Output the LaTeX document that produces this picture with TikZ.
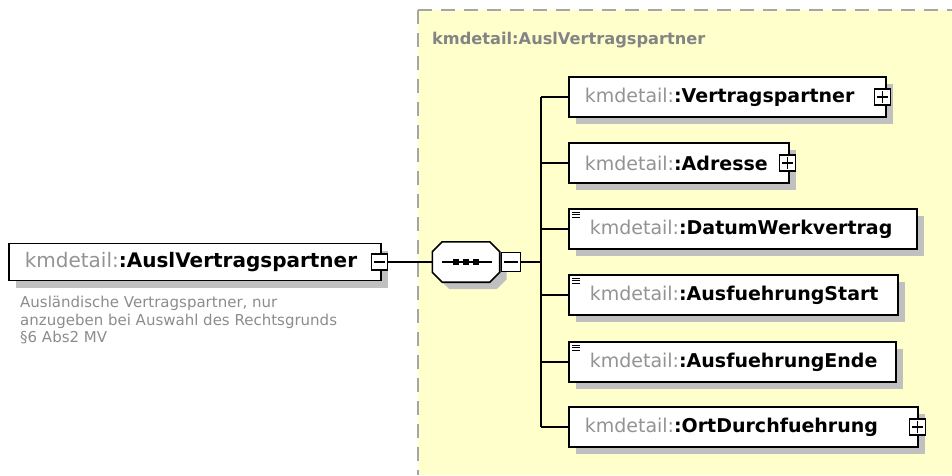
\documentclass[tikz,border=0pt]{standalone}
\usepackage{fontspec}
\setmainfont{DejaVu Sans}
\usetikzlibrary{positioning, shadows}

\definecolor{cyellow}{HTML}{FFFFCC}
\definecolor{cborder}{HTML}{A6A6A6}
\definecolor{ctitle}{HTML}{848484}
\definecolor{nsgray}{HTML}{939393}
\definecolor{docgray}{HTML}{8C8C8C}
\definecolor{shgray}{HTML}{C0C0C0}

\newcommand{\kmd}[1]{\mbox{\hspace*{16pt}{\color{nsgray}kmdetail:}\textbf{:#1}}}
\newcommand{\minussign}[1]{\draw[line width=1.1pt] ([xshift=3pt]#1.west) -- ([xshift=-3pt]#1.east);}
\newcommand{\plussign}[1]{\minussign{#1}\draw[line width=1.1pt] ([yshift=3pt]#1.south) -- ([yshift=-3pt]#1.north);}
\newcommand{\simpleicon}[1]{\foreach \k in {0,1,2}{\draw[line width=0.9pt] ([xshift=4pt,yshift={-(4+2.6*\k)*1pt}]#1.north west) -- ++(8,0);}}

\tikzset{
  shad/.style={drop shadow={shadow xshift=7pt, shadow yshift=-7pt, fill=shgray, opacity=1}},
  elem/.style={draw, line width=1.6pt, fill=white, shad, anchor=west, inner xsep=0pt,
    align=left, minimum height=40pt, font=\fontsize{19}{22}\selectfont},
  pm/.style={draw, line width=1.1pt, fill=white, minimum size=16pt, inner sep=0pt},
  conn/.style={line width=1.6pt},
}

\begin{document}
\begin{tikzpicture}[x=1pt, y=-1pt]
  \useasboundingbox (0,0) rectangle (952,475);

  % complex type area
  \fill[cyellow] (418,10) rectangle (952,475);
  \draw[cborder, line width=1.5pt, dash pattern=on 14pt off 9pt] (418,10) -- (952,10);
  \draw[cborder, line width=1.5pt, dash pattern=on 14pt off 9pt] (418,10) -- (418,475);
  \node[anchor=west, text=ctitle, inner sep=0pt, font=\fontsize{16.2}{19}\selectfont\bfseries] (ctype) at (432,40) {kmdetail:AuslVertragspartner};

  % root element
  \node[elem, text width=372pt, minimum height=37pt, font=\fontsize{20}{23}\selectfont] (main) at (8,262) {\kmd{AuslVertragspartner}};
  \node[pm] (mainpm) at ([xshift=-2pt]main.east) {};
  \minussign{mainpm}
  \node[anchor=north west, align=left, text=docgray, inner sep=0pt, font=\fontsize{15}{17.5}\selectfont] (doc) at (20,296)
    {Ausländische Vertragspartner, nur\\anzugeben bei Auswahl des Rechtsgrunds\\§6 Abs2 MV};

  % sequence
  \node[minimum width=67pt, minimum height=40pt, inner sep=0pt] (seq) at (466,262) {};
  \fill[shgray] ([shift={(17pt,-7pt)}]seq.north west) -- ([shift={(-3pt,-7pt)}]seq.north east)
    -- ([shift={(7pt,-17pt)}]seq.north east) -- ([shift={(7pt,3pt)}]seq.south east)
    -- ([shift={(-3pt,-7pt)}]seq.south east) -- ([shift={(17pt,-7pt)}]seq.south west)
    -- ([shift={(7pt,3pt)}]seq.south west) -- ([shift={(7pt,-17pt)}]seq.north west) -- cycle;
  \draw[conn, fill=white] ([xshift=10pt]seq.north west) -- ([xshift=-10pt]seq.north east)
    -- ([yshift=-10pt]seq.north east) -- ([yshift=10pt]seq.south east)
    -- ([xshift=-10pt]seq.south east) -- ([xshift=10pt]seq.south west)
    -- ([yshift=10pt]seq.south west) -- ([yshift=-10pt]seq.north west) -- cycle;
  \draw[conn] ([xshift=10pt]seq.west) -- ([xshift=-8pt]seq.east);
  \foreach \d in {-10,0,10}
    \fill ([xshift=\d pt]seq.center) ++(-2.8,-2.8) rectangle ++(5.6,5.6);
  \node[pm, minimum size=19pt, right=1pt of seq] (seqpm) {};
  \minussign{seqpm}
  \coordinate (bar) at (541,262);

  % children
  \node[elem, text width=317pt] (vp) at (568,97) {\kmd{Vertragspartner}};
  \node[elem, text width=220pt] (adr) at (568,163) {\kmd{Adresse}};
  \node[elem, text width=348pt] (dwv) at (568,229) {\hspace*{5pt}\kmd{DatumWerkvertrag}};
  \node[elem, text width=329pt] (afs) at (568,295) {\hspace*{5pt}\kmd{AusfuehrungStart}};
  \node[elem, text width=327pt] (afe) at (568,362) {\hspace*{5pt}\kmd{AusfuehrungEnde}};
  \node[elem, text width=349pt] (ort) at (568,427) {\kmd{OrtDurchfuehrung}};

  \foreach \n in {dwv,afs,afe}
    \simpleicon{\n}
  \node[pm] (vppm) at ([xshift=-4pt]vp.east) {};
  \node[pm] (adrpm) at ([xshift=-2pt]adr.east) {};
  \node[pm] (ortpm) at ([xshift=-1pt]ort.east) {};
  \plussign{vppm}
  \plussign{adrpm}
  \plussign{ortpm}

  % connectors
  \draw[conn] (mainpm) -- (seq);
  \draw[conn] (seqpm) -- (bar);
  \draw[conn] (bar |- vp.west) -- (bar |- ort.west);
  \foreach \n in {vp,adr,dwv,afs,afe,ort}
    \draw[conn] (bar |- \n.west) -- (\n.west);
\end{tikzpicture}
\end{document}
